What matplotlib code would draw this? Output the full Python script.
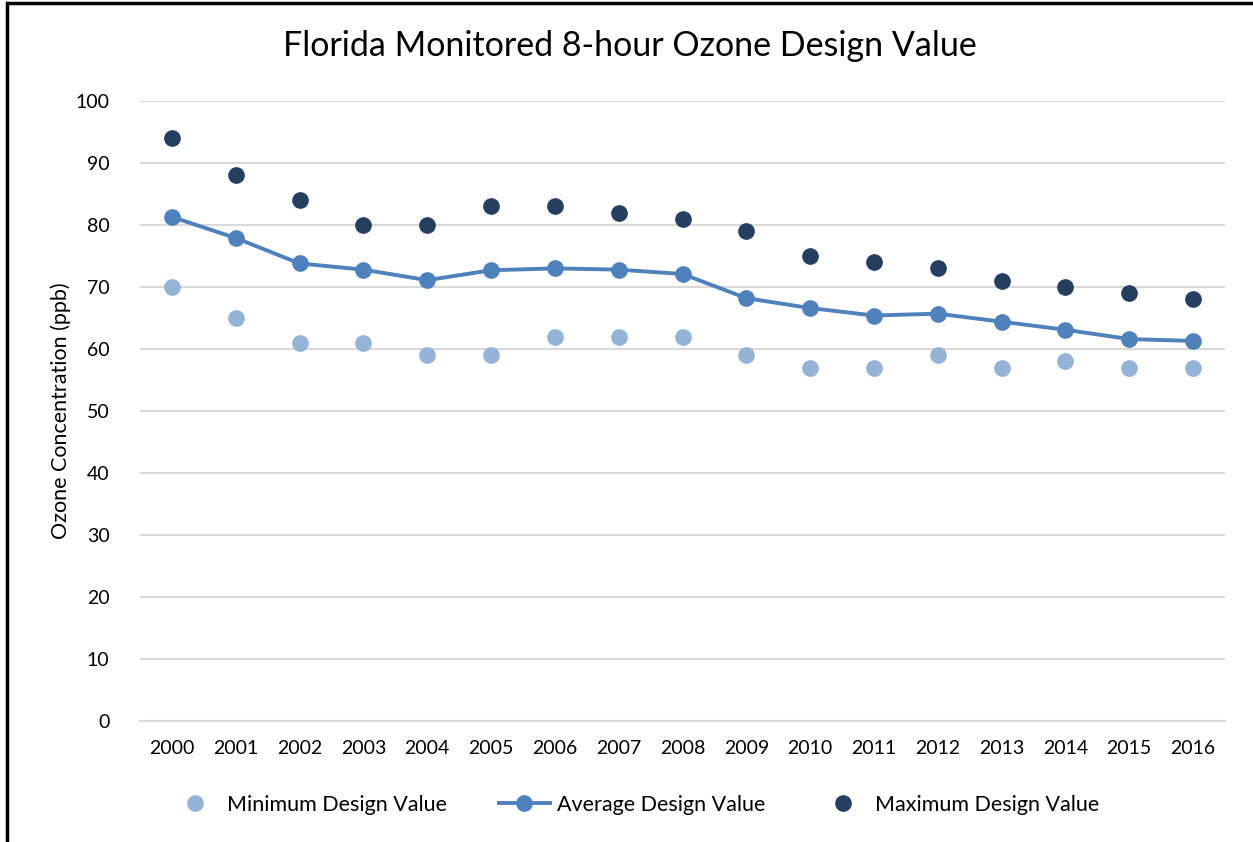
import matplotlib
matplotlib.use("Agg")
import matplotlib.pyplot as plt
from matplotlib.patches import Rectangle
import numpy as np

plt.rcParams["font.family"] = ["Lato", "DejaVu Sans"]

years = ["2000", "2001", "2002", "2003", "2004", "2005", "2006", "2007", "2008",
         "2009", "2010", "2011", "2012", "2013", "2014", "2015", "2016"]
min_vals = [70, 65, 61, 61, 59, 59, 62, 62, 62, 59, 57, 57, 59, 57, 58, 57, 57]
avg_vals = [81.3, 77.9, 73.8, 72.8, 71.1, 72.7, 73.0, 72.8, 72.1,
            68.2, 66.6, 65.4, 65.7, 64.4, 63.1, 61.6, 61.3]
max_vals = [94, 88, 84, 80, 80, 83, 83, 82, 81, 79, 75, 74, 73, 71, 70, 69, 68]


def main():
    fig = plt.figure(figsize=(12.53, 8.42), dpi=100)
    ax = fig.add_axes([140 / 1253, 1 - 721 / 842, 1085 / 1253, 620 / 842])
    x = np.arange(len(years))

    ax.plot(x, min_vals, "o", color="#95B3D7", markersize=11,
            label="Minimum Design Value", zorder=3)
    ax.plot(x, avg_vals, "-o", color="#4F81BD", markersize=11, linewidth=2.8,
            label="Average Design Value", zorder=4)
    ax.plot(x, max_vals, "o", color="#243F60", markersize=11,
            label="Maximum Design Value", zorder=3)

    ax.set_xlim(-0.5, len(years) - 0.5)
    ax.set_ylim(0, 100)
    ax.set_yticks(np.arange(0, 101, 10))
    ax.set_xticks(x)
    ax.set_xticklabels(years)
    ax.yaxis.grid(True, color="#D9D9D9", linewidth=1.5)
    ax.set_axisbelow(True)
    for s in ax.spines.values():
        s.set_visible(False)
    ax.spines["bottom"].set_visible(True)
    ax.spines["bottom"].set_color("#D9D9D9")
    ax.spines["bottom"].set_linewidth(1.5)
    ax.tick_params(axis="both", length=0, labelsize=14, colors="black")
    ax.tick_params(axis="x", pad=14)
    ax.tick_params(axis="y", pad=22)
    ax.set_ylabel("Ozone Concentration (ppb)", fontsize=15.5, labelpad=3)

    fig.text(0.503, 1 - 46 / 842, "Florida Monitored 8-hour Ozone Design Value",
             ha="center", va="center", fontsize=24.5)

    fig.legend(loc="center", bbox_to_anchor=(0.506, 1 - 805 / 842), ncol=3,
               frameon=False, fontsize=15.5, columnspacing=2.4,
               handlelength=2.4, handletextpad=0.3)

    fig.patches.append(Rectangle((7 / 1253, -0.1), 1.2, 1 - 3 / 842 + 0.1,
                                 transform=fig.transFigure, fill=False,
                                 edgecolor="black", linewidth=2.5))

    fig.savefig("out.png", dpi=100)


if __name__ == "__main__":
    main()
